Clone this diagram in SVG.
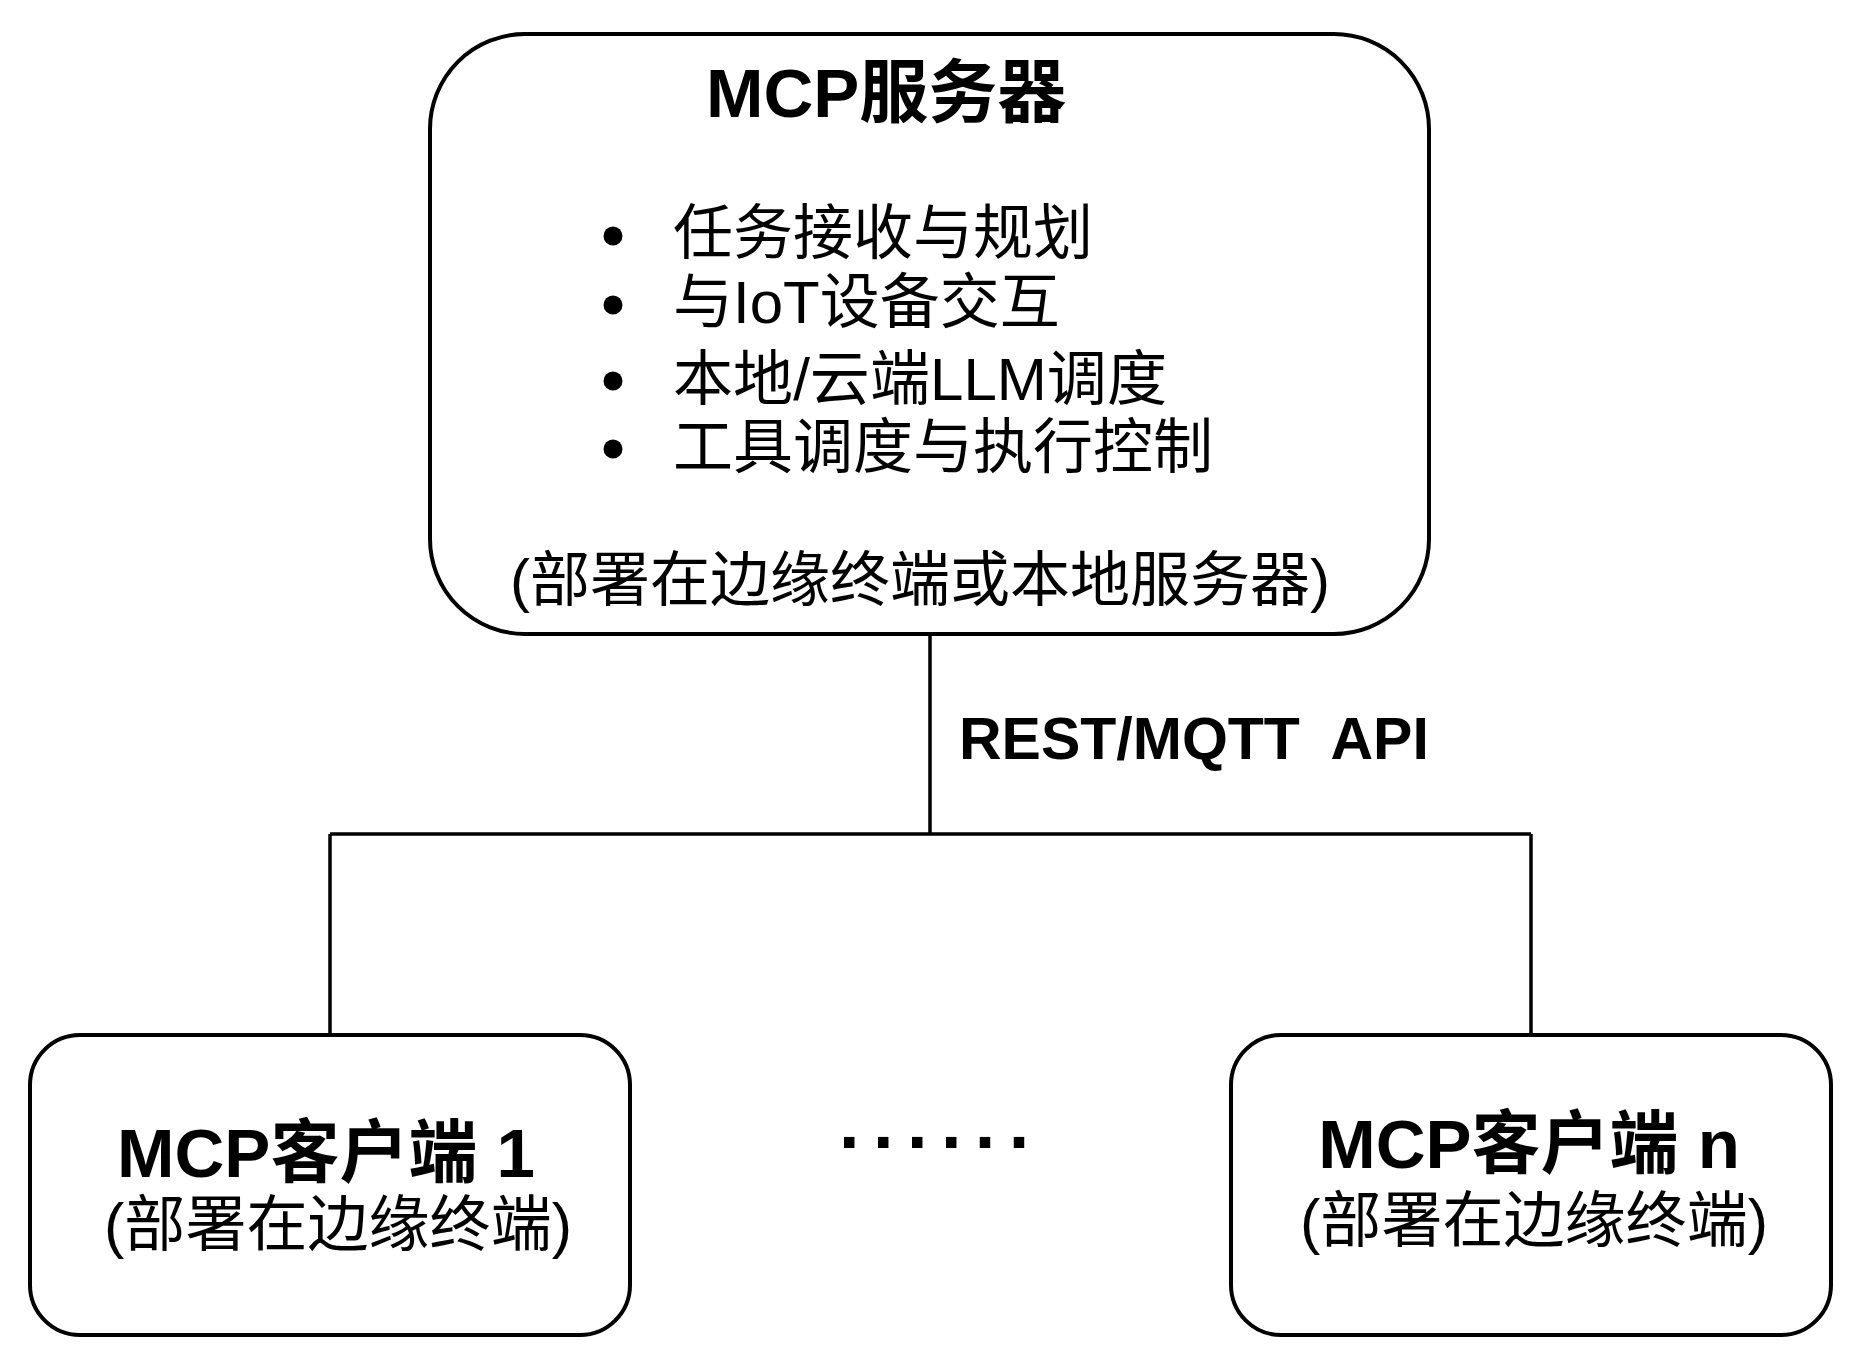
<svg xmlns="http://www.w3.org/2000/svg" width="1856" height="1368" viewBox="0 0 1856 1368">
<style>
.box{fill:#fff;stroke:#000;stroke-width:4}
.wire{fill:none;stroke:#000;stroke-width:3.5}
.t{font-family:"Liberation Sans","Noto Sans CJK SC",sans-serif;fill:#000}
.b{font-weight:bold}
.title{font-size:69px}
.item{font-size:60px}
.sub{font-size:60px}
.csub{font-size:61px}
.lbl{font-size:59px;white-space:pre}
</style>
<rect width="1856" height="1368" fill="#fff"/>
<g id="connectors">
<path class="wire" d="M930 634 V834 M330 834 H1531 M330 834 V1035 M1531 834 V1035"/>
<text class="t b lbl" x="959" y="759">REST/MQTT  API</text>
</g>
<g id="server">
<rect class="box" x="430" y="34" width="999" height="600" rx="95" ry="95"/>
<text class="t b title" x="706" y="117">MCP服务器</text>
<circle cx="613" cy="236" r="9.5"/>
<circle cx="613" cy="305" r="9.5"/>
<circle cx="613" cy="381" r="9.5"/>
<circle cx="613" cy="449" r="9.5"/>
<text class="t item" x="673" y="254">任务接收与规划</text>
<text class="t item" x="673" y="323">与IoT设备交互</text>
<text class="t item" x="673" y="400" textLength="494" lengthAdjust="spacingAndGlyphs">本地/云端LLM调度</text>
<text class="t item" x="673" y="468">工具调度与执行控制</text>
<text class="t sub" x="510" y="601">(部署在边缘终端或本地服务器)</text>
</g>
<g id="client1">
<rect class="box" x="30" y="1035" width="600" height="300" rx="50" ry="50"/>
<text class="t b title" x="326" y="1177" text-anchor="middle">MCP客户端 1</text>
<text class="t csub" x="104" y="1246" textLength="468" lengthAdjust="spacing">(部署在边缘终端)</text>
</g>
<g id="ellipsis">
<text class="t b" x="839" y="1148" font-size="74" letter-spacing="13.4">......</text>
</g>
<g id="clientn">
<rect class="box" x="1231" y="1035" width="600" height="300" rx="50" ry="50"/>
<text class="t b title" x="1529" y="1168" text-anchor="middle">MCP客户端 n</text>
<text class="t csub" x="1300" y="1242" textLength="468" lengthAdjust="spacing">(部署在边缘终端)</text>
</g>
</svg>
